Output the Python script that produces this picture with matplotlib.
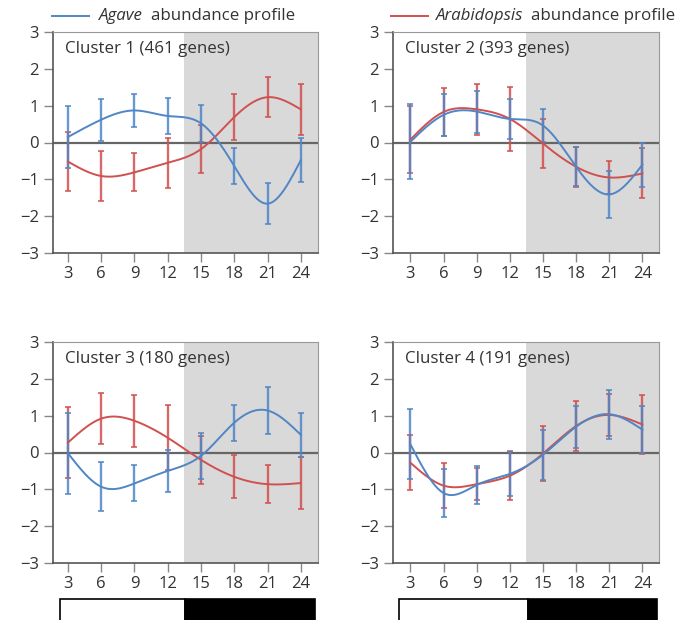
import numpy as np
import matplotlib
matplotlib.use("Agg")
import matplotlib.pyplot as plt
from matplotlib.patches import Rectangle
import matplotlib.transforms as mtrans

plt.rcParams['font.family'] = ['Open Sans', 'DejaVu Sans']

hours = [3, 6, 9, 12, 15, 18, 21, 24]
xtick_labels = ['3', '6', '9', '12', '15', '18', '21', '24']
yticks = [-3, -2, -1, 0, 1, 2, 3]

cluster_titles = ["Cluster 1 (461 genes)", "Cluster 2 (393 genes)",
                  "Cluster 3 (180 genes)", "Cluster 4 (191 genes)"]

agave_c1 = [0.15, 0.62, 0.87, 0.72, 0.52, -0.64, -1.66, -0.48]
agave_c1_err = [0.83, 0.57, 0.44, 0.49, 0.51, 0.49, 0.55, 0.59]
arab_c1 = [-0.52, -0.91, -0.81, -0.55, -0.18, 0.69, 1.23, 0.90]
arab_c1_err = [0.81, 0.68, 0.52, 0.68, 0.65, 0.62, 0.54, 0.70]

agave_c2 = [0.02, 0.75, 0.84, 0.64, 0.46, -0.66, -1.41, -0.60]
agave_c2_err = [1.02, 0.57, 0.57, 0.55, 0.45, 0.53, 0.64, 0.60]
arab_c2 = [0.08, 0.83, 0.90, 0.64, -0.03, -0.66, -0.95, -0.84]
arab_c2_err = [0.92, 0.65, 0.70, 0.86, 0.67, 0.55, 0.45, 0.68]

agave_c3 = [-0.02, -0.93, -0.84, -0.50, -0.09, 0.81, 1.14, 0.48]
agave_c3_err = [1.10, 0.67, 0.49, 0.57, 0.62, 0.49, 0.64, 0.59]
arab_c3 = [0.27, 0.92, 0.86, 0.40, -0.20, -0.66, -0.86, -0.83]
arab_c3_err = [0.97, 0.69, 0.70, 0.88, 0.65, 0.58, 0.51, 0.70]

agave_c4 = [0.22, -1.10, -0.88, -0.58, -0.06, 0.70, 1.04, 0.62]
agave_c4_err = [0.95, 0.65, 0.52, 0.59, 0.68, 0.57, 0.67, 0.64]
arab_c4 = [-0.28, -0.90, -0.86, -0.63, -0.03, 0.72, 1.02, 0.76]
arab_c4_err = [0.75, 0.62, 0.43, 0.67, 0.74, 0.67, 0.57, 0.80]

agave_series = [(agave_c1, agave_c1_err), (agave_c2, agave_c2_err),
                (agave_c3, agave_c3_err), (agave_c4, agave_c4_err)]
arab_series = [(arab_c1, arab_c1_err), (arab_c2, arab_c2_err),
               (arab_c3, arab_c3_err), (arab_c4, arab_c4_err)]

BLUE = '#4f86c6'
RED = '#d0504f'
GREY_BG = '#d9d9d9'
TXT = '#333333'
FS = 12.2
TICK_FS = 12


def natural_spline(x, y, n=300):
    x = np.asarray(x, float)
    y = np.asarray(y, float)
    m = len(x)
    h = np.diff(x)
    A = np.zeros((m, m))
    b = np.zeros(m)
    A[0, 0] = 1
    A[-1, -1] = 1
    for i in range(1, m - 1):
        A[i, i - 1] = h[i - 1]
        A[i, i] = 2 * (h[i - 1] + h[i])
        A[i, i + 1] = h[i]
        b[i] = 3 * ((y[i + 1] - y[i]) / h[i] - (y[i] - y[i - 1]) / h[i - 1])
    c = np.linalg.solve(A, b)
    xs = np.linspace(x[0], x[-1], n)
    ys = np.empty_like(xs)
    for k, xv in enumerate(xs):
        i = min(np.searchsorted(x, xv, side='right') - 1, m - 2)
        i = max(i, 0)
        dx = xv - x[i]
        bi = (y[i + 1] - y[i]) / h[i] - h[i] * (2 * c[i] + c[i + 1]) / 3
        di = (c[i + 1] - c[i]) / (3 * h[i])
        ys[k] = y[i] + bi * dx + c[i] * dx ** 2 + di * dx ** 3
    return xs, ys


fig = plt.figure(figsize=(6.77, 6.2), dpi=100)

W, H = 677, 620
positions = [
    (53, 32, 318, 253, (1.65, 25.55)),
    (393, 32, 659, 253, (1.42, 25.5)),
    (53, 342, 318, 563, (1.65, 25.55)),
    (393, 342, 659, 563, (1.42, 25.5)),
]

for idx, (l, t, r, b, xl) in enumerate(positions):
    ax = fig.add_axes([l / W, 1 - b / H, (r - l) / W, (b - t) / H])
    ax.set_xlim(*xl)
    ax.set_ylim(-3, 3)
    ax.axvspan(13.5, xl[1], color=GREY_BG, zorder=0, lw=0)
    ax.axhline(0, color='#666666', lw=1.6, zorder=1)

    for (vals, errs), col in ((arab_series[idx], RED), (agave_series[idx], BLUE)):
        xs, ys = natural_spline(hours, vals)
        ax.plot(xs, ys, color=col, lw=1.4, zorder=3)
        ax.errorbar(hours, vals, yerr=errs, fmt='none', ecolor=col,
                    elinewidth=1.7, capsize=2.4, capthick=1.3, alpha=0.85, zorder=2)

    ax.set_xticks(hours)
    ax.set_xticklabels(xtick_labels)
    ax.set_yticks(yticks)
    ax.set_yticklabels([str(v).replace('-', '\u2212') for v in yticks])
    ax.tick_params(axis='both', labelsize=TICK_FS, colors=TXT, length=6.5,
                   width=1, color='#888888')
    ax.tick_params(axis='x', pad=2.5)
    ax.tick_params(axis='y', pad=3.5)
    for s in ('top', 'right'):
        ax.spines[s].set_color('#999999')
        ax.spines[s].set_linewidth(0.8)
    for s in ('left', 'bottom'):
        ax.spines[s].set_color('#555555')
        ax.spines[s].set_linewidth(1.2)

    ax.text(0.045, 0.96, cluster_titles[idx], transform=ax.transAxes,
            ha='left', va='top', fontsize=FS, color=TXT)

    if idx >= 2:
        tr = mtrans.blended_transform_factory(ax.transData, ax.transAxes)
        x0 = xl[0] + 7 / 11.08 if idx == 2 else xl[0] + 6 / 11.0
        ax.add_patch(Rectangle((x0, -0.30), 13.6 - x0, 0.135, transform=tr,
                               facecolor='white', edgecolor='black', lw=1.2,
                               clip_on=False))
        ax.add_patch(Rectangle((13.6, -0.30), 25.3 - 13.6, 0.135, transform=tr,
                               facecolor='black', edgecolor='black', lw=1.2,
                               clip_on=False))

# legend-like headers
renderer = fig.canvas.get_renderer()


def header(x_line0, x_line1, x_text, italic_word, col):
    y = 1 - 16 / H
    fig.add_artist(plt.Line2D([x_line0 / W, x_line1 / W], [y, y], color=col, lw=1.4))
    t = fig.text(x_text / W, y, italic_word, style='italic', fontsize=FS,
                 color=TXT, va='center', ha='left')
    bb = t.get_window_extent(renderer=renderer)
    fig.text(bb.x1 / W + 8 / W, y, 'abundance profile', fontsize=FS,
             color=TXT, va='center', ha='left')


header(52, 89, 99, 'Agave', BLUE)
header(391, 428, 436, 'Arabidopsis', RED)

fig.savefig('out.png', dpi=100)
